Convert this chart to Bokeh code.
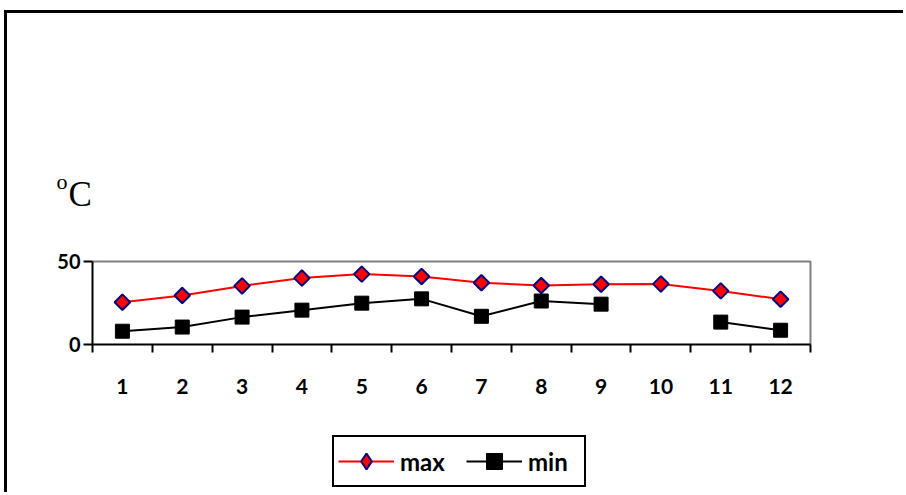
import numpy as np
from bokeh.plotting import figure
from bokeh.models import (Range1d, FixedTicker, Legend, LegendItem, Label,
                          ColumnDataSource)
from bokeh.embed import file_html
from bokeh.resources import INLINE

months = [1, 2, 3, 4, 5, 6, 7, 8, 9, 10, 11, 12]
t_max = [25.5, 29.5, 35.3, 40.0, 42.4, 41.0, 37.2, 35.5, 36.3, 36.5, 32.3, 27.3]
t_min = [8.0, 10.5, 16.5, 20.7, 24.9, 27.5, 17.0, 26.2, 24.3, np.nan, 13.5, 8.6]
y_ticks = [0, 50]
unit_o = "o"
unit_c = "C"

X0, X1 = 0.5, 12.5     # category band edges
Y0, Y1 = 0, 50         # value axis extent

src = ColumnDataSource(dict(x=months, tmax=t_max, tmin=t_min))
dummy = ColumnDataSource(dict(x=[np.nan], y=[np.nan]))

p = figure(width=899, height=482, output_backend="svg", toolbar_location=None,
           x_range=Range1d(-0.9207, 14.1045), y_range=Range1d(-90.96, 199.4),
           min_border=0,
           styles={"margin-left": "4px", "margin-top": "10px",
                   "border-top": "3px solid black", "border-left": "3px solid black"})

p.background_fill_color = "white"
p.border_fill_color = "white"
p.outline_line_color = None
p.xgrid.visible = False
p.ygrid.visible = False

# gray top / right edges of the plot area
p.line([X0, X1, X1], [Y1, Y1, Y0], line_color="#808080", line_width=2)

lmax = p.line("x", "tmax", source=src, line_color="#ff0000", line_width=2)
smax = p.scatter("x", "tmax", source=src, marker="square", angle=np.pi / 4, size=11,
                 fill_color="#ff0000", line_color="#000080", line_width=2)
lmin = p.line("x", "tmin", source=src, line_color="black", line_width=2)
smin = p.scatter("x", "tmin", source=src, marker="square", size=14,
                 fill_color="black", line_color="black", line_width=1)
# legend-only marker (diamond shape as in the legend)
dmax = p.scatter("x", "y", source=dummy, marker="diamond",
                 fill_color="#ff0000", line_color="#000080", line_width=2)

xa = p.xaxis[0]
xa.fixed_location = Y0
xa.bounds = (X0, X1)
xa.ticker = FixedTicker(ticks=months, minor_ticks=[m - 0.5 for m in months] + [X1])
xa.major_tick_out = 0
xa.major_tick_in = 0
xa.minor_tick_out = 8
xa.minor_tick_in = 0
xa.minor_tick_line_color = "black"
xa.minor_tick_line_width = 2
xa.axis_line_color = "black"
xa.axis_line_width = 2
xa.major_label_text_font = "Lato"
xa.major_label_text_font_style = "bold"
xa.major_label_text_font_size = "21px"
xa.major_label_text_color = "black"
xa.major_label_standoff = 26

ya = p.yaxis[0]
ya.fixed_location = X0
ya.bounds = (Y0, Y1)
ya.ticker = FixedTicker(ticks=y_ticks, minor_ticks=[])
ya.major_tick_out = 9
ya.major_tick_in = 0
ya.major_tick_line_width = 2
ya.major_tick_line_color = "black"
ya.minor_tick_out = 0
ya.axis_line_color = "black"
ya.axis_line_width = 2
ya.major_label_text_font = "Lato"
ya.major_label_text_font_style = "bold"
ya.major_label_text_font_size = "20px"
ya.major_label_text_color = "black"
ya.major_label_standoff = 3

p.add_layout(Label(x=-0.10, y=98.2, text=unit_o,
                   text_font="Liberation Serif", text_font_size="22px",
                   text_baseline="alphabetic", text_color="black"))
p.add_layout(Label(x=0.10, y=90.3, text=unit_c,
                   text_font="Liberation Serif", text_font_size="35px",
                   text_baseline="alphabetic", text_color="black"))

legend = Legend(items=[LegendItem(label="max", renderers=[lmax, dmax]),
                       LegendItem(label="min", renderers=[lmin, smin])],
                orientation="horizontal", location=(325, 8))
legend.border_line_color = "black"
legend.border_line_alpha = 1.0
legend.border_line_width = 2
legend.background_fill_color = "white"
legend.background_fill_alpha = 1.0
legend.label_text_font = "Lato"
legend.label_text_font_style = "bold"
legend.label_text_font_size = "24px"
legend.label_text_color = "black"
legend.glyph_width = 56
legend.glyph_height = 40
legend.label_width = 52
legend.padding = 4
legend.spacing = 14
legend.label_standoff = 6
legend.margin = 0
p.add_layout(legend, "center")

open("out.html", "w").write(file_html(p, INLINE))
